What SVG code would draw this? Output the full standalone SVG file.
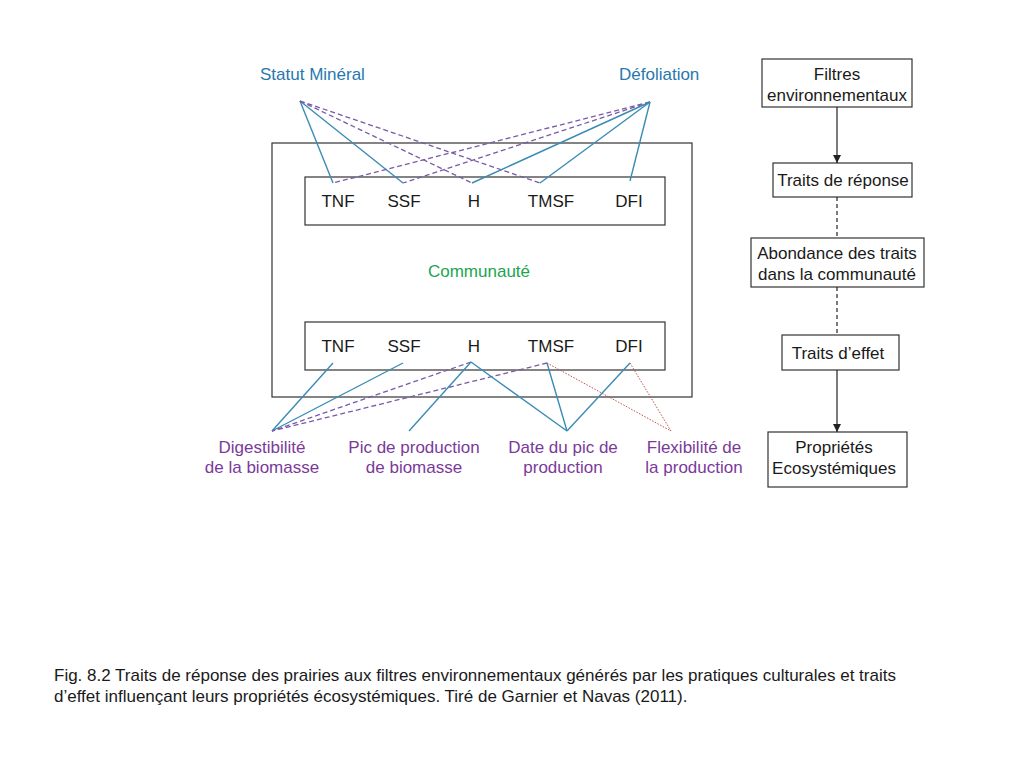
<svg xmlns="http://www.w3.org/2000/svg" width="1024" height="768" viewBox="0 0 1024 768">
<style>
text{font-family:"Liberation Sans",Arial,sans-serif;font-size:17px}
.c{text-anchor:middle}
.k{fill:#1a1a1a}
.b{fill:#2878ad}
.p{fill:#7a3a9a}
.g{fill:#1aa550}
.box{fill:#fff;stroke:#333;stroke-width:1.2}
.s{stroke:#3a8cb4;stroke-width:1.4;fill:none}
.d{stroke:#7a5aa8;stroke-width:1.3;stroke-dasharray:5 3;fill:none}
.r{stroke:#c0504d;stroke-width:1;stroke-dasharray:1.5 1.5;fill:none}
.a{stroke:#222;stroke-width:1.2;fill:none}
.ad{stroke:#222;stroke-width:1.2;stroke-dasharray:4 3;fill:none}
</style>
<defs>
<marker id="ah" markerWidth="10" markerHeight="10" refX="8" refY="5" orient="auto" markerUnits="userSpaceOnUse">
<path d="M0,1 L8,5 L0,9 Z" fill="#222"/>
</marker>
</defs>
<rect width="1024" height="768" fill="#fff"/>
<g id="communaute">
<rect class="box" x="272" y="143" width="420" height="254"/>
<text class="c g" x="479" y="277">Communauté</text>
</g>
<g id="traits-top">
<rect class="box" x="305" y="177" width="360" height="48"/>
<text class="c k" x="338" y="207">TNF</text>
<text class="c k" x="404" y="207">SSF</text>
<text class="c k" x="474" y="207">H</text>
<text class="c k" x="551" y="207">TMSF</text>
<text class="c k" x="629" y="207">DFI</text>
</g>
<g id="traits-bottom">
<rect class="box" x="305" y="322" width="360" height="48"/>
<text class="c k" x="338" y="352">TNF</text>
<text class="c k" x="404" y="352">SSF</text>
<text class="c k" x="474" y="352">H</text>
<text class="c k" x="551" y="352">TMSF</text>
<text class="c k" x="629" y="352">DFI</text>
</g>
<g id="statut"><text class="b" x="260" y="80">Statut Minéral</text></g>
<g id="defoliation"><text class="b" x="619" y="80">Défoliation</text></g>
<g id="digest"><text class="c p" x="262" y="453">Digestibilité</text><text class="c p" x="262" y="473">de la biomasse</text></g>
<g id="pic"><text class="c p" x="414" y="453">Pic de production</text><text class="c p" x="414" y="473">de biomasse</text></g>
<g id="date"><text class="c p" x="563" y="453">Date du pic de</text><text class="c p" x="563" y="473">production</text></g>
<g id="flex"><text class="c p" x="694" y="453">Flexibilité de</text><text class="c p" x="694" y="473">la production</text></g>
<g id="filtres"><rect class="box" x="762" y="59" width="150" height="48"/><text class="c k" x="837" y="80">Filtres</text><text class="c k" x="837" y="101">environnementaux</text></g>
<g id="reponse"><rect class="box" x="773" y="163" width="139" height="34"/><text class="c k" x="843" y="186">Traits de réponse</text></g>
<g id="abondance"><rect class="box" x="751" y="238" width="173" height="49"/><text class="c k" x="837" y="259">Abondance des traits</text><text class="c k" x="837" y="280">dans la communauté</text></g>
<g id="effet"><rect class="box" x="782" y="335" width="117" height="35"/><text class="c k" x="838" y="359">Traits d’effet</text></g>
<g id="proprietes"><rect class="box" x="768" y="432" width="139" height="55"/><text class="c k" x="834" y="453">Propriétés</text><text class="c k" x="834" y="474">Ecosystémiques</text></g>
<g id="connectors">
<line class="s" x1="300" y1="101" x2="333" y2="183"/>
<line class="s" x1="300" y1="101" x2="403" y2="183"/>
<line class="d" x1="300" y1="101" x2="472" y2="183"/>
<line class="d" x1="300" y1="101" x2="540" y2="183"/>
<line class="d" x1="650" y1="102" x2="333" y2="183"/>
<line class="d" x1="650" y1="102" x2="403" y2="183"/>
<line class="s" x1="650" y1="102" x2="472" y2="183"/>
<line class="s" x1="650" y1="102" x2="540" y2="183"/>
<line class="s" x1="650" y1="102" x2="630" y2="181"/>
<line class="s" x1="333" y1="363" x2="272" y2="431"/>
<line class="s" x1="403" y1="363" x2="272" y2="431"/>
<line class="d" x1="471" y1="362" x2="272" y2="431"/>
<line class="d" x1="547" y1="363" x2="272" y2="431"/>
<line class="s" x1="471" y1="362" x2="409" y2="431"/>
<line class="s" x1="471" y1="362" x2="567" y2="431"/>
<line class="s" x1="547" y1="363" x2="567" y2="431"/>
<line class="s" x1="630" y1="363" x2="567" y2="431"/>
<line class="r" x1="547" y1="363" x2="671" y2="431"/>
<line class="r" x1="630" y1="363" x2="671" y2="431"/>
<line class="a" x1="837" y1="107" x2="837" y2="163" marker-end="url(#ah)"/>
<line class="ad" x1="837" y1="197" x2="837" y2="238"/>
<line class="ad" x1="837" y1="287" x2="837" y2="335"/>
<line class="a" x1="837" y1="370" x2="837" y2="432" marker-end="url(#ah)"/>
</g>
<g id="caption">
<text class="k" x="54" y="681">Fig. 8.2 Traits de réponse des prairies aux filtres environnementaux générés par les pratiques culturales et traits</text>
<text class="k" x="54" y="702">d’effet influençant leurs propriétés écosystémiques. Tiré de Garnier et Navas (2011).</text>
</g>
</svg>
